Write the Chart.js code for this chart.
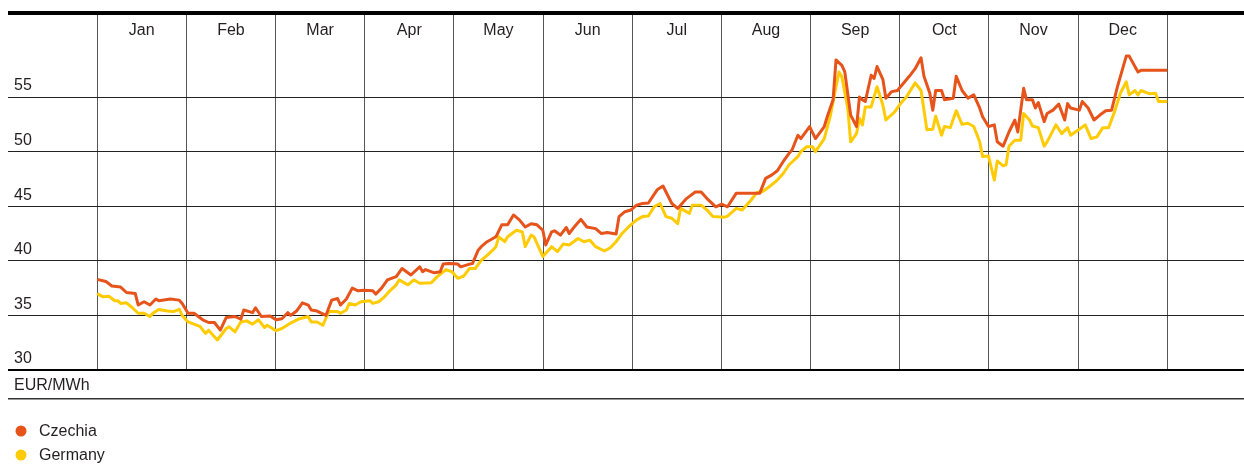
<!DOCTYPE html>
<html>
<head>
<meta charset="utf-8">
<script src="https://cdn.jsdelivr.net/npm/chart.js@4.4.1/dist/chart.umd.min.js"></script>
<style>
  html, body { margin: 0; padding: 0; background: #fff; }
  canvas { display: block; }
</style>
</head>
<body>
<canvas id="priceChart" width="1244" height="464"></canvas>
<script>
// ── Data (day of year, EUR/MWh) ──
const months = ['Jan', 'Feb', 'Mar', 'Apr', 'May', 'Jun', 'Jul', 'Aug', 'Sep', 'Oct', 'Nov', 'Dec'];
const yTicks = [30, 35, 40, 45, 50, 55];
const seriesLabels = ['Czechia', 'Germany'];
const unitLabel = 'EUR/MWh';

const czDay = [
  0, 3, 5, 8, 10, 13, 14, 16, 18, 20, 21, 25, 28, 29, 31, 33, 36, 38, 40, 42, 44, 47, 49, 50,
  53, 54, 56, 59, 61, 63, 65, 66, 68, 70, 72, 73, 75, 78, 80, 82, 83, 85, 87, 89, 91, 94, 95, 97,
  99, 102, 104, 107, 110, 111, 112, 115, 117, 118, 120, 123, 124, 127, 128, 130, 131, 133, 136, 138,
  140, 142, 144, 146, 148, 150, 152, 153, 155, 156, 158, 160, 161, 163, 165, 167, 170, 172, 174, 177,
  178, 180, 182, 184, 186, 188, 191, 193, 196, 198, 201, 202, 204, 206, 208, 211, 213, 215, 218, 223,
  226, 228, 230, 232, 234, 236, 237, 239, 240, 243, 245, 248, 249, 251, 252, 254, 255, 257, 259, 260,
  261, 262, 264, 265, 266, 268, 269, 271, 273, 274, 277, 279, 281, 282, 284, 285, 286, 288, 289, 292,
  293, 295, 297, 299, 301, 302, 304, 306, 307, 309, 311, 313, 314, 316, 317, 319, 320, 321, 323, 324,
  326, 328, 330, 331, 332, 335, 336, 338, 340, 342, 344, 346, 348, 351, 352, 355, 356, 365
];
const czPrice = [
  38.3, 38.1, 37.7, 37.6, 37.1, 37.0, 35.95, 36.25, 35.95, 36.5, 36.35, 36.5, 36.4, 36.1, 35.2, 35.2, 34.6, 34.35, 34.35, 33.65, 34.8, 34.9, 34.65, 35.5,
  35.25, 35.7, 34.9, 34.95, 34.6, 34.7, 35.25, 35.0, 35.4, 36.15, 35.95, 35.5, 35.4, 35.0, 36.4, 36.55, 35.95, 36.5, 37.5, 37.25, 37.3, 37.25, 36.95, 37.5,
  38.25, 38.55, 39.3, 38.7, 39.45, 39.0, 39.2, 38.9, 39.0, 39.7, 39.75, 39.7, 39.45, 39.7, 39.75, 41.0, 41.3, 41.75, 42.2, 43.3,
  43.3, 44.2, 43.75, 43.1, 43.4, 43.3, 42.8, 41.45, 42.65, 42.75, 42.35, 43.05, 42.5, 43.2, 43.8, 43.1, 42.95, 42.5, 42.6, 42.45,
  44.05, 44.5, 44.65, 45.1, 45.25, 45.3, 46.5, 46.85, 45.25, 44.8, 45.7, 45.9, 46.3, 46.3, 45.7, 44.95, 45.2, 44.95, 46.2, 46.2,
  46.2, 47.55, 47.85, 48.25, 49.1, 49.85, 50.15, 51.5, 51.2, 52.3, 51.2, 52.3, 53.2, 54.75, 58.4, 57.9, 57.3, 53.35, 52.3, 55.0,
  54.75, 54.6, 57.0, 56.7, 57.8, 56.6, 54.9, 55.5, 55.6, 55.95, 56.9, 57.6, 58.6, 56.9, 55.35, 53.8, 55.6, 55.6, 54.75, 54.9,
  56.9, 55.6, 54.9, 55.2, 54.0, 53.2, 52.3, 52.45, 50.9, 50.5, 51.8, 52.9, 51.8, 55.8, 54.75, 54.75, 54.0, 54.5, 52.75, 53.5,
  53.8, 54.35, 52.9, 54.4, 54.0, 53.8, 54.6, 54.0, 52.9, 53.35, 53.75, 53.8, 55.95, 58.75, 58.75, 57.3, 57.45, 57.45
];

const deDay = [
  0, 2, 4, 6, 7, 8, 10, 12, 14, 16, 18, 19, 21, 24, 26, 28, 29, 31, 33, 35, 37, 38, 41, 44,
  45, 47, 49, 51, 53, 55, 57, 58, 61, 63, 66, 69, 72, 73, 75, 77, 79, 82, 83, 85, 86, 88, 90, 93,
  94, 96, 98, 100, 102, 103, 106, 108, 110, 114, 116, 119, 121, 123, 125, 127, 129, 131, 133, 135,
  136, 137, 139, 140, 143, 145, 146, 148, 149, 152, 155, 157, 159, 161, 164, 166, 168, 170, 173, 175,
  177, 179, 182, 184, 186, 188, 190, 192, 194, 196, 198, 199, 202, 203, 206, 208, 210, 214, 215, 218,
  220, 223, 225, 227, 230, 232, 234, 236, 239, 240, 242, 244, 245, 248, 250, 253, 254, 256, 257, 259,
  260, 261, 262, 264, 266, 268, 269, 272, 274, 276, 279, 281, 283, 285, 286, 288, 289, 291, 293, 295,
  297, 299, 301, 302, 304, 306, 307, 309, 310, 311, 313, 315, 316, 318, 319, 321, 323, 324, 327, 329,
  331, 332, 335, 337, 339, 341, 343, 345, 347, 349, 351, 352, 354, 355, 356, 359, 361, 362, 365
];
const dePrice = [
  37.0, 36.7, 36.75, 36.35, 36.35, 36.1, 36.15, 35.7, 35.2, 35.2, 34.9, 35.2, 35.55, 35.4, 35.35, 35.55, 35.0, 34.4, 34.2, 34.0, 33.35, 33.65, 32.75, 33.8,
  33.95, 33.5, 34.4, 34.5, 34.2, 34.6, 33.9, 34.1, 33.6, 33.8, 34.3, 34.7, 34.9, 34.4, 34.4, 34.1, 35.35, 35.35, 35.2, 35.5, 36.1, 35.95, 36.25, 36.35,
  36.1, 36.25, 36.7, 37.3, 37.8, 38.25, 37.8, 38.25, 37.95, 38.0, 38.55, 39.2, 39.0, 38.4, 38.6, 39.3, 39.3, 40.05, 40.5, 41.0,
  41.3, 42.2, 41.75, 42.2, 42.8, 42.65, 41.3, 42.35, 42.2, 40.4, 41.3, 40.85, 41.55, 41.45, 42.05, 41.75, 41.9, 41.3, 40.9, 41.2,
  41.75, 42.5, 43.3, 43.75, 44.05, 44.1, 44.95, 45.25, 44.05, 43.9, 43.4, 44.8, 44.35, 45.1, 45.1, 44.65, 44.05, 44.0, 44.1, 44.8,
  44.65, 45.55, 46.25, 46.35, 46.95, 47.4, 48.0, 48.8, 49.55, 50.0, 50.45, 50.45, 50.0, 51.2, 53.2, 57.3, 56.85, 54.0, 50.9, 51.65,
  53.05, 52.45, 54.1, 54.1, 55.95, 54.25, 52.9, 53.65, 54.4, 55.0, 56.3, 55.6, 52.0, 52.05, 53.25, 51.5, 52.3, 52.2, 53.75, 52.5,
  52.6, 52.3, 50.9, 49.55, 49.6, 47.4, 49.15, 48.7, 48.8, 50.5, 51.05, 51.05, 53.5, 52.9, 52.35, 52.2, 50.5, 50.9, 52.45, 51.65,
  52.2, 51.5, 52.05, 52.45, 51.2, 51.35, 52.2, 52.2, 53.65, 55.35, 56.4, 55.2, 55.6, 55.2, 55.6, 55.3, 55.35, 54.6, 54.6
];

// ── Style ──
const FONT = "'Liberation Sans', Arial, Helvetica, sans-serif";
const INK = '#231f20';
const ORANGE = '#e6531b';
const YELLOW = '#ffcb05';
const MONTH = 365 / 12;

function toPoints(days, values) {
  return days.map((d, i) => ({ x: d, y: values[i] }));
}

const frame = {
  id: 'frame',
  afterDraw(chart) {
    const { ctx, chartArea: area, scales: { x } } = chart;
    ctx.save();
    // heavy top rule
    ctx.fillStyle = '#000';
    ctx.fillRect(area.left, area.top - 2, area.right - area.left, 4);

    // month names inside the plot, centred in each column
    ctx.font = `16px ${FONT}`;
    ctx.fillStyle = INK;
    ctx.textAlign = 'center';
    ctx.textBaseline = 'middle';
    months.forEach((m, i) => {
      ctx.fillText(m, x.getPixelForValue((i + 0.5) * MONTH), area.top + 18);
    });

    // unit row
    ctx.textAlign = 'left';
    ctx.fillText(unitLabel, area.left + 6, area.bottom + 16);
    ctx.fillStyle = '#333';
    ctx.fillRect(area.left, area.bottom + 28, area.right - area.left, 1.5);

    // legend
    chart.data.datasets.forEach((ds, i) => {
      const cy = 431 + i * 24;
      ctx.beginPath();
      ctx.arc(21, cy, 5.5, 0, Math.PI * 2);
      ctx.fillStyle = ds.borderColor;
      ctx.fill();
      ctx.fillStyle = INK;
      ctx.fillText(ds.label, 39, cy + 1);
    });
    ctx.restore();
  }
};

new Chart(document.getElementById('priceChart'), {
  type: 'line',
  data: {
    datasets: [
      {
        label: seriesLabels[0],
        data: toPoints(czDay, czPrice),
        borderColor: ORANGE,
        borderWidth: 3,
        pointRadius: 0,
        tension: 0,
        borderJoinStyle: 'round'
      },
      {
        label: seriesLabels[1],
        data: toPoints(deDay, dePrice),
        borderColor: YELLOW,
        borderWidth: 3,
        pointRadius: 0,
        tension: 0,
        borderJoinStyle: 'round'
      }
    ]
  },
  options: {
    responsive: false,
    animation: false,
    layout: { padding: { left: 8, right: 0, top: 13, bottom: 94 } },
    scales: {
      x: {
        type: 'linear',
        min: -MONTH,
        max: MONTH * 12.86,
        afterBuildTicks: s => { s.ticks = months.concat(['']).map((_, i) => ({ value: i * MONTH })); },
        afterFit: s => { s.height = 0; s.paddingLeft = 0; s.paddingRight = 0; },
        grid: { color: '#555', lineWidth: 1, drawTicks: false },
        border: { display: false },
        ticks: { display: false }
      },
      y: {
        min: 30,
        max: 62.7,
        afterBuildTicks: s => { s.ticks = yTicks.map(v => ({ value: v })); },
        afterFit: s => { s.width = 0; s.paddingTop = 0; s.paddingBottom = 0; },
        grid: {
          color: ctx => ctx.tick && ctx.tick.value === 30 ? '#000' : '#222',
          lineWidth: ctx => ctx.tick && ctx.tick.value === 30 ? 2 : 1,
          drawTicks: false
        },
        border: { display: false },
        ticks: {
          mirror: true,
          padding: 6,
          labelOffset: -11,
          color: INK,
          font: { size: 16, family: FONT }
        }
      }
    },
    plugins: {
      legend: { display: false },
      tooltip: { enabled: false }
    }
  },
  plugins: [frame]
});
</script>
</body>
</html>
